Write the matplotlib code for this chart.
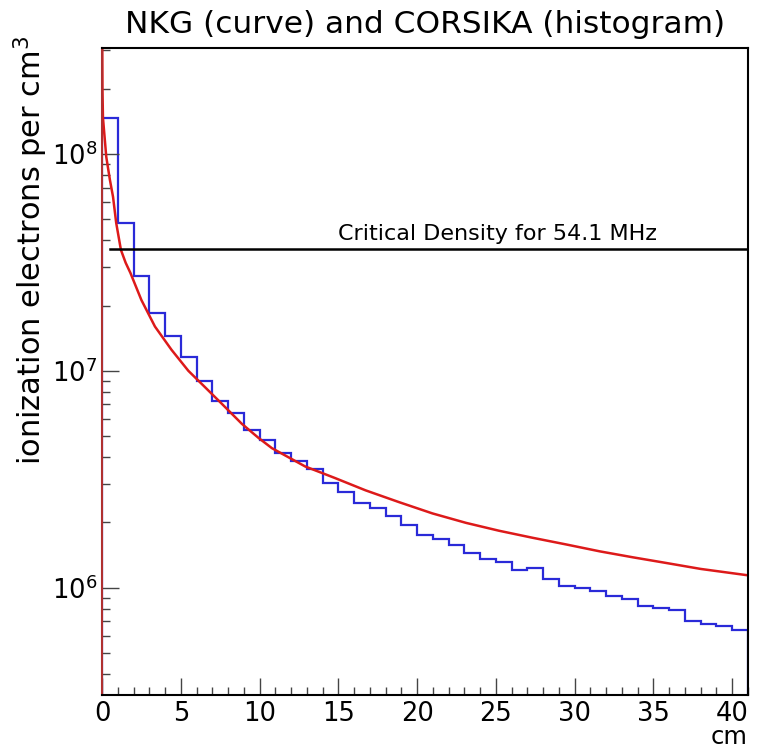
import numpy as np
import matplotlib.pyplot as plt
from matplotlib.ticker import MultipleLocator, LogLocator, NullFormatter

plt.rcParams['mathtext.default'] = 'regular'

# CORSIKA histogram, 1 cm bins from 0 to 41 cm
bin_edges = np.arange(0, 42, 1)
corsika = [1.46e8, 4.80e7, 2.75e7, 1.85e7, 1.44e7, 1.16e7, 9.02e6, 7.22e6,
           6.39e6, 5.31e6, 4.81e6, 4.20e6, 3.82e6, 3.53e6, 3.05e6, 2.76e6,
           2.47e6, 2.34e6, 2.13e6, 1.94e6, 1.75e6, 1.68e6, 1.58e6, 1.44e6,
           1.35e6, 1.32e6, 1.20e6, 1.23e6, 1.10e6, 1.02e6, 1.00e6, 9.62e5,
           9.12e5, 8.90e5, 8.26e5, 8.06e5, 7.86e5, 7.00e5, 6.83e5, 6.63e5,
           6.36e5]

# NKG curve
nkg_x = [0.01, 0.03, 0.06, 0.27, 0.5, 0.7, 0.9, 1.2, 1.5, 1.8, 2.5, 3.36,
         4.41, 5.48, 6.54, 7.6, 8.87, 9.94, 10.78, 12.9, 14.8, 16.73, 18.85,
         20.97, 23.1, 25.2, 27.3, 29.5, 31.6, 33.7, 35.8, 38.0, 41.0]
nkg_y = [4.0e8, 1.97e8, 1.47e8, 9.7e7, 7.6e7, 6.34e7, 4.81e7, 3.61e7,
         3.15e7, 2.83e7, 2.12e7, 1.60e7, 1.25e7, 1.00e7, 8.40e6, 7.05e6,
         5.70e6, 4.90e6, 4.40e6, 3.62e6, 3.20e6, 2.81e6, 2.48e6, 2.20e6,
         1.99e6, 1.83e6, 1.70e6, 1.58e6, 1.47e6, 1.38e6, 1.30e6, 1.22e6,
         1.14e6]

critical_density = 3.63e7
crit_label = 'Critical Density for 54.1 MHz'

fig = plt.figure(figsize=(7.59, 7.51), dpi=100)
ax = fig.add_axes([0.1344, 0.0746, 0.8511, 0.8615])

ax.stairs(corsika, bin_edges, baseline=1, color='#2a2ad8', lw=1.6)
ax.plot(nkg_x, nkg_y, color='#dd1a1a', lw=1.8)
ax.plot([0.5, 41], [critical_density, critical_density], color='black', lw=1.8)
ax.text(15.0, critical_density * 1.06, crit_label, fontsize=16, va='bottom', ha='left')

ax.set_yscale('log')
ax.set_xlim(0, 41)
ax.set_ylim(3.2e5, 3.08e8)

ax.xaxis.set_major_locator(MultipleLocator(5))
ax.xaxis.set_minor_locator(MultipleLocator(1))
ax.yaxis.set_major_locator(LogLocator(base=10))
ax.yaxis.set_minor_locator(LogLocator(base=10, subs=np.arange(2, 10)))
ax.yaxis.set_minor_formatter(NullFormatter())
ax.tick_params(which='both', direction='in', top=False, right=False,
               labelsize=18.5, color='#444444')
ax.tick_params(which='major', length=12, width=1)
ax.tick_params(which='minor', length=6, width=1)
ax.tick_params(axis='x', pad=4)

for s in ax.spines.values():
    s.set_linewidth(1.5)
ax.spines['left'].set_color('#b03030')

ax.set_title('NKG (curve) and CORSIKA (histogram)', fontsize=22.5, pad=11)
ax.set_xlabel('cm', fontsize=17.5, ha='right', va='bottom')
ax.xaxis.set_label_coords(1.0, -0.083)
ax.set_ylabel('ionization electrons per cm$^3$', fontsize=22, loc='top')
ax.yaxis.set_label_coords(-0.08, 1.02)

fig.savefig('out.png', dpi=100)
